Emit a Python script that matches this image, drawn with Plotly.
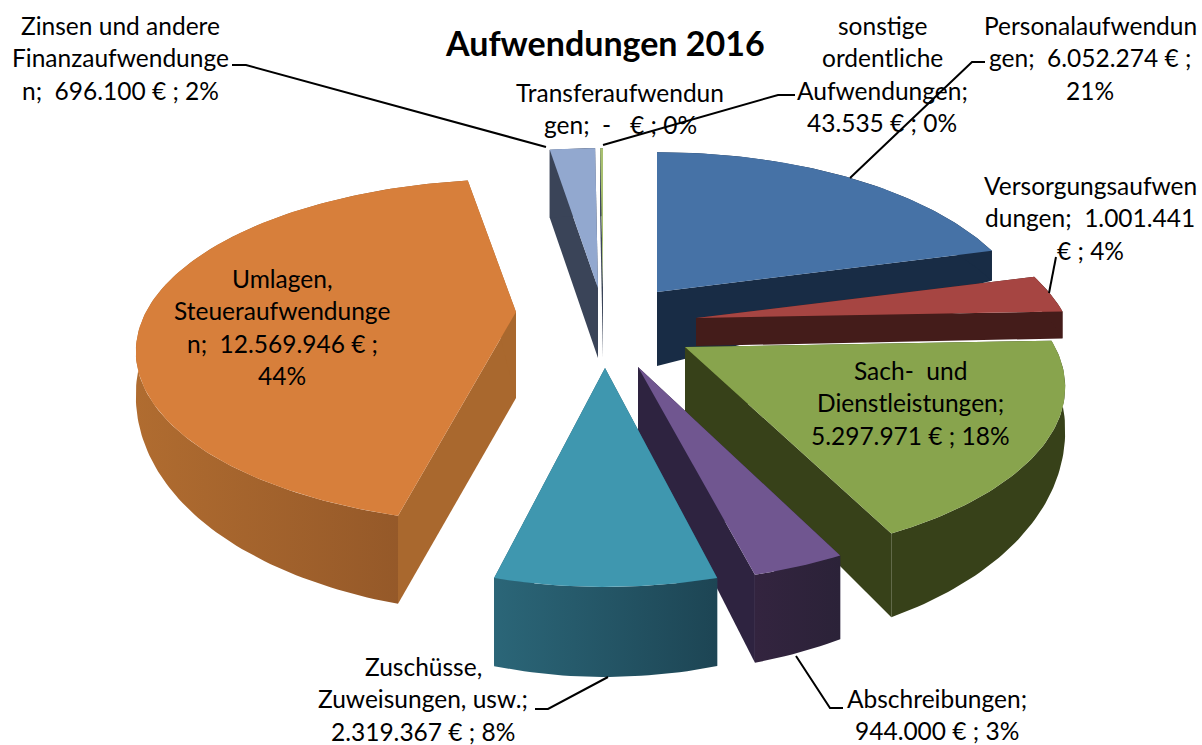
import numpy as np
import plotly.graph_objects as go

# --- data, clockwise from 12 o'clock, as printed in the chart ---
categories = ["Personalaufwendungen", "Versorgungsaufwendungen", "Sach- und Dienstleistungen",
              "Abschreibungen", "Zuschüsse, Zuweisungen, usw.", "Umlagen, Steueraufwendungen",
              "Zinsen und andere Finanzaufwendungen", "Transferaufwendungen",
              "sonstige ordentliche Aufwendungen"]
values = [6052274, 1001441, 5297971, 944000, 2319367, 12569946, 696100, 0, 43535]

title_text = "Aufwendungen 2016"
NB = "\u00a0"
label_lines = [
    ["Personalaufwendun", f"gen;{NB} 6.052.274 € ;", "21%"],
    ["Versorgungsaufwen", f"dungen;{NB} 1.001.441", "€ ; 4%"],
    [f"Sach-{NB} und", "Dienstleistungen;", "5.297.971 € ; 18%"],
    [f"Abschreibungen;", "944.000 € ; 3%"],
    ["Zuschüsse,", "Zuweisungen, usw.;", "2.319.367 € ; 8%"],
    ["Umlagen,", "Steueraufwendunge", f"n;{NB} 12.569.946 € ;", "44%"],
    ["Zinsen und andere", "Finanzaufwendunge", f"n;{NB} 696.100 € ; 2%"],
    ["Transferaufwendun", f"gen;{NB} -{NB}{NB} € ; 0%"],
    ["sonstige", "ordentliche", "Aufwendungen;", "43.535 € ; 0%"],
]

# --- layout of the exploded, tilted pie (styling, not data) ---
apex = [(657, 292), (696, 318), (685, 347), (638, 367), (605, 368),
        (516, 312), (598, 288), (601, 288), (603, 288)]
scale_x = [0.99, 1.0, 1.0, 0.98, 0.94, 1.0, 1.0, 1.0, 1.0]
scale_y = [1.0, 1.0, 0.96, 0.97, 0.98, 0.95, 1.0, 1.0, 1.0]
top_col = ["#4672A6", "#A64542", "#88A44D", "#705690", "#3F97AF", "#D77F3B", "#92A8CF", "#88A44D", "#A8C070"]
side_col = ["#182C45", "#441C1A", "#374119", "#2E2340", "#22566A", "#A9682E", "#3A4458", "#3A4458", "#3A4458"]
rim_grad = [None, None, None, ("#33243F", "#2B2238"), ("#2B6678", "#1D4554"), ("#B06C30", "#8E5427"),
            None, None, None]
rim_base = [30, 27, 30, 30, 30, 30, 68, 68, 68]
apex_depth = [74, 28, 64, 66, 70, 86, 70, 70, 70]
paint_order = [6, 7, 8, 0, 1, 2, 5, 3, 4]
label_pos = [(1090, 25), (1090, 185), (910, 370), (937, 698), (423, 666), (282, 278), (120, 25), (620, 92), (882, 25)]
R, TILT, K = 370.0, 172.0, 0.23
LINE_STEP = 32.5


def project(theta):
    v = np.cos(theta)
    p = 1 / (1 + K * v)
    return R * np.sin(theta) * p, -TILT * v * p, v


fracs = np.array(values, float) / sum(values)
edges = np.concatenate([[0], np.cumsum(fracs)]) * 2 * np.pi
fig = go.Figure()


def poly(xs, ys, color=None, grad=None):
    kw = dict(x=list(xs), y=list(ys), mode="lines", line=dict(width=0),
              hoverinfo="skip", showlegend=False)
    if grad:
        kw.update(fill="toself", fillgradient=dict(type="horizontal",
                  colorscale=[[0, grad[0]], [1, grad[1]]]))
    else:
        kw.update(fill="toself", fillcolor=color)
    fig.add_trace(go.Scatter(**kw))


for i in paint_order:
    if values[i] == 0:
        continue
    ax, ay = apex[i]
    n = max(3, int(np.degrees(edges[i + 1] - edges[i])) + 2)
    th = np.linspace(edges[i], edges[i + 1], n)
    dx, dy, v = project(th)
    rx, ry = ax + dx * scale_x[i], ay + dy * scale_y[i]
    depth = rim_base[i] + 60 * np.maximum(-v, 0)
    d0 = apex_depth[i]
    # radial faces
    poly([ax, rx[0], rx[0], ax], [ay, ry[0], ry[0] + depth[0], ay + d0], side_col[i])
    poly([ax, rx[-1], rx[-1], ax], [ay, ry[-1], ry[-1] + depth[-1], ay + d0], side_col[i])
    # outer rim
    poly(np.r_[rx, rx[::-1]], np.r_[ry, (ry + depth)[::-1]], side_col[i], rim_grad[i])
    # top face
    poly(np.r_[ax, rx], np.r_[ay, ry], top_col[i])

# leader lines
leaders = [
    [(232, 65), (246, 65), (546, 147)],
    [(795, 95), (778, 95), (603, 145)],
    [(985, 62), (972, 62), (850, 178)],
    [(1056, 257), (1049, 293)],
    [(535, 709), (548, 709), (608, 677)],
    [(843, 708), (830, 708), (796, 656)],
]
shapes = []
for pts in leaders:
    path = "M" + " L".join(f"{x},{y}" for x, y in pts)
    shapes.append(dict(type="path", path=path, xref="x", yref="y",
                       line=dict(color="black", width=2)))

FONT = "Lato, Carlito, sans-serif"
ann = [dict(x=605, y=42, text=f"<b>{title_text}</b>", showarrow=False, xanchor="center",
            yanchor="middle", font=dict(family=FONT, size=34, color="black"))]
for lines, (x, y) in zip(label_lines, label_pos):
    for j, t in enumerate(lines):
        ann.append(dict(x=x, y=y + j * LINE_STEP, text=t, showarrow=False, xanchor="center",
                        yanchor="middle", font=dict(family=FONT, size=24.5, color="black")))

fig.update_layout(
    width=1202, height=745, autosize=False, margin=dict(l=0, r=0, t=0, b=0),
    paper_bgcolor="white", plot_bgcolor="white", showlegend=False,
    xaxis=dict(range=[0, 1202], visible=False, fixedrange=True),
    yaxis=dict(range=[745, 0], visible=False, fixedrange=True),
    shapes=shapes, annotations=ann,
)
fig.write_html("out.html", config=dict(displayModeBar=False),
               post_script="document.body.style.margin='0';document.documentElement.style.overflow='hidden';")
